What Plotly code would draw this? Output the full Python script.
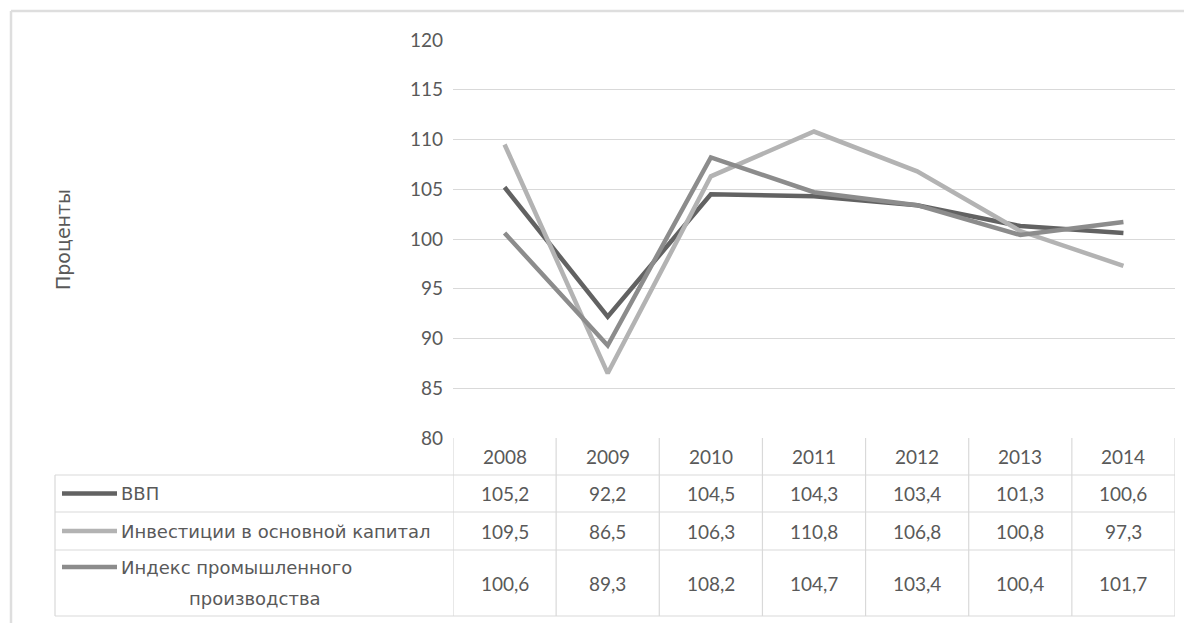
import plotly.graph_objects as go

years = ["2008", "2009", "2010", "2011", "2012", "2013", "2014"]
vvp = [105.2, 92.2, 104.5, 104.3, 103.4, 101.3, 100.6]
invest = [109.5, 86.5, 106.3, 110.8, 106.8, 100.8, 97.3]
prom = [100.6, 89.3, 108.2, 104.7, 103.4, 100.4, 101.7]
series_names = ["ВВП", "Инвестиции в основной капитал", "Индекс промышленного производства"]
series_values = [vvp, invest, prom]
series_colors = ["#626262", "#b3b3b3", "#8c8c8c"]
y_ticks = [80, 85, 90, 95, 100, 105, 110, 115, 120]

OFF = 8  # page body margin
W, H = 1192 - OFF, 623 - OFF
# plot area in screen pixels
L, R, T, B = 453, 1175, 40, 438
FONT = "Lato"
LFONT = "DejaVu Sans"
TXT = "#595959"
GRID = "#d9d9d9"

def px(x):
    return (x - L) / (R - L)

def py(y):
    return (B - y) / (B - T)

def fmt(v):
    return f"{v:.1f}".replace(".", ",")

fig = go.Figure()
for name, vals, col in zip(series_names, series_values, series_colors):
    fig.add_trace(go.Scatter(x=list(range(len(years))), y=vals, mode="lines", name=name,
                             line=dict(color=col, width=4.5), showlegend=False))

shapes = []
ann = []
# outer chart border
shapes.append(dict(type="line", xref="paper", yref="paper", x0=px(11), x1=px(1200), y0=py(11), y1=py(11),
                   line=dict(color="#dedede", width=2.5)))
shapes.append(dict(type="line", xref="paper", yref="paper", x0=px(11), x1=px(11), y0=py(11), y1=py(630),
                   line=dict(color="#dedede", width=2.5)))

# table geometry
row_edges = [438, 475, 512, 550, 616]
tl = 55
for yy in row_edges[1:]:
    shapes.append(dict(type="line", xref="paper", yref="paper", x0=px(tl), x1=px(R), y0=py(yy), y1=py(yy),
                       line=dict(color=GRID, width=1.2)))
for k in range(len(years) + 1):
    shapes.append(dict(type="line", xref="x", yref="paper", x0=k - 0.5, x1=k - 0.5, y0=py(438), y1=py(616),
                       line=dict(color=GRID, width=1.2)))
shapes.append(dict(type="line", xref="paper", yref="paper", x0=px(tl), x1=px(tl), y0=py(475), y1=py(616),
                   line=dict(color=GRID, width=1.2)))

# year header
for k, yr in enumerate(years):
    ann.append(dict(x=k, y=py(456), xref="x", yref="paper", text=yr, showarrow=False,
                    xanchor="center", yanchor="middle",
                    font=dict(family=FONT, size=19, color=TXT)))

row_centers = [493.5, 531, 583]
for i, (name, vals, col) in enumerate(zip(series_names, series_values, series_colors)):
    yc = row_centers[i]
    for k, v in enumerate(vals):
        ann.append(dict(x=k, y=py(yc), xref="x", yref="paper", text=fmt(v), showarrow=False,
                        xanchor="center", yanchor="middle",
                        font=dict(family=FONT, size=19, color=TXT)))
    sy = yc if i < 2 else 567
    shapes.append(dict(type="line", xref="paper", yref="paper", x0=px(62), x1=px(117), y0=py(sy), y1=py(sy),
                       line=dict(color=col, width=4.5)))
    if i < 2:
        ann.append(dict(x=px(119), y=py(yc), xref="paper", yref="paper", text=name, showarrow=False,
                        xanchor="left", yanchor="middle", font=dict(family=LFONT, size=18, color=TXT)))
    else:
        ann.append(dict(x=px(119), y=py(567), xref="paper", yref="paper", text="Индекс промышленного",
                        showarrow=False, xanchor="left", yanchor="middle",
                        font=dict(family=LFONT, size=18, color=TXT)))
        ann.append(dict(x=px(255), y=py(598), xref="paper", yref="paper", text="производства",
                        showarrow=False, xanchor="center", yanchor="middle",
                        font=dict(family=LFONT, size=18, color=TXT)))

# y axis title
ann.append(dict(x=px(63), y=py(240), xref="paper", yref="paper", text="Проценты", showarrow=False,
                textangle=-90, xanchor="center", yanchor="middle",
                font=dict(family=LFONT, size=19, color=TXT)))

fig.update_layout(
    width=W, height=H,
    margin=dict(l=L - OFF, r=W - (R - OFF), t=T - OFF, b=H - (B - OFF), pad=0),
    paper_bgcolor="white", plot_bgcolor="white",
    xaxis=dict(range=[-0.5, len(years) - 0.5], showticklabels=False, showgrid=False, zeroline=False,
               showline=False, ticks=""),
    yaxis=dict(range=[80, 120], tickvals=y_ticks, ticktext=[str(t) for t in y_ticks],
               showgrid=True, gridcolor=GRID, gridwidth=1.2, zeroline=False, showline=False,
               ticks="", ticklabelstandoff=9,
               tickfont=dict(family=FONT, size=19, color=TXT)),
    shapes=shapes, annotations=ann,
)
fig.write_html("out.html")
